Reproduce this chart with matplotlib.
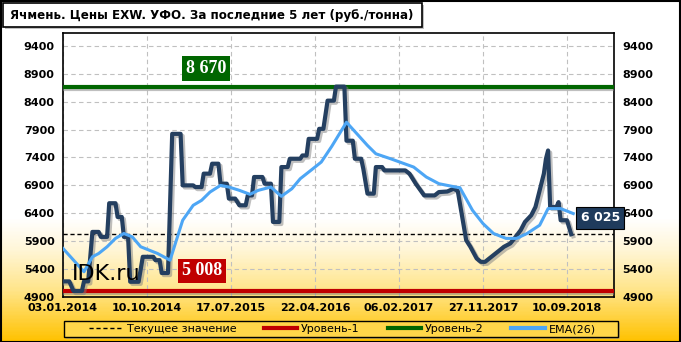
import numpy as np
import matplotlib
matplotlib.use("Agg")
import matplotlib.pyplot as plt
import matplotlib.patheffects as pe
from matplotlib.colors import LinearSegmentedColormap
from matplotlib.patches import Rectangle

# weekly data, week 0 = 03.01.2014
price_weeks = [0, 3, 5, 9, 10, 12, 14, 17, 18, 21, 22, 25, 26, 28, 29, 31, 32, 36,
               38, 43, 44, 46, 47, 50, 52, 56, 57, 62, 63, 66, 67, 70, 71, 74, 75, 78,
               79, 82, 84, 87, 88, 90, 91, 95, 96, 99, 100, 103, 104, 107, 108, 113,
               114, 116, 117, 121, 122, 124, 126, 129, 130, 134, 135, 138, 139, 142,
               143, 145, 148, 149, 152, 153, 163, 165, 168, 172, 177, 179, 183, 186,
               188, 192, 194, 197, 199, 201, 204, 207, 210, 213, 215, 218, 220, 223,
               225, 227, 229, 230, 231, 232, 235, 236, 237, 240, 242]
price_vals = [5180, 5180, 5008, 5008, 5180, 5180, 6066, 6066, 5977, 5977, 6580, 6580,
              6334, 6334, 5977, 5977, 5173, 5173, 5620, 5620, 5560, 5560, 5330, 5330,
              7823, 7823, 6900, 6900, 6870, 6870, 7110, 7110, 7288, 7288, 6930, 6930,
              6663, 6663, 6543, 6543, 6720, 6720, 7050, 7050, 6930, 6930, 6245, 6245,
              7228, 7228, 7377, 7377, 7436, 7436, 7733, 7733, 7913, 7913, 8418, 8418,
              8670, 8670, 7700, 7700, 7377, 7377, 7199, 6752, 6752, 7228, 7228, 7168,
              7168, 7110, 6930, 6720, 6720, 6780, 6790, 6840, 6800, 5918, 5800, 5590,
              5530, 5530, 5620, 5710, 5800, 5860, 5950, 6100, 6245, 6365, 6513, 6810,
              7110, 7377, 7525, 6513, 6513, 6600, 6275, 6275, 6025]

ema_weeks = [0, 10, 14, 17, 21, 25, 29, 33, 37, 41, 45, 51, 54, 57, 62, 66, 70, 75,
             79, 84, 89, 93, 99, 104, 109, 113, 118, 123, 128, 135, 140, 145, 149, 156,
             167, 173, 179, 187, 189, 195, 200, 205, 211, 216, 221, 227, 231, 237, 243]
ema_vals = [5770, 5352, 5620, 5680, 5800, 5950, 6038, 5977, 5800, 5740, 5680, 5560, 5918,
            6275, 6543, 6632, 6780, 6900, 6870, 6811, 6740, 6811, 6870, 6704, 6840,
            7020, 7168, 7318, 7600, 8031, 7823, 7615, 7466, 7377, 7228, 7050, 6930, 6870,
            6860, 6454, 6216, 6038, 5950, 5950, 6038, 6186, 6484, 6484, 6395]

current = 6025
level1 = 5008
level2 = 8670
date_labels = ["03.01.2014", "10.10.2014", "17.07.2015", "22.04.2016",
               "06.02.2017", "27.11.2017", "10.09.2018"]
tick_weeks = [0, 40, 80, 120, 160, 200, 240]
title = "Ячмень. Цены EXW. УФО. За последние 5 лет (руб./тонна)"

fig = plt.figure(figsize=(6.81, 3.42), dpi=100)

# background gradient (white -> yellow)
bg = fig.add_axes([0, 0, 1, 1], zorder=-10)
cmap = LinearSegmentedColormap.from_list(
    "bg", [(0, "#ffffff"), (0.64, "#ffffff"), (0.73, "#fff6d8"),
           (0.85, "#ffe58a"), (1.0, "#ffc200")])
grad = np.linspace(0, 1, 342).reshape(-1, 1)
bg.imshow(grad, aspect="auto", cmap=cmap, extent=[0, 1, 0, 1], origin="upper")
bg.axis("off")

ax = fig.add_axes([63/681, 45/342, 551/681, 264/342])
ax.set_facecolor("none")

shadow = [pe.SimpleLineShadow(offset=(1.5, -1.5), shadow_color="gray", alpha=0.5), pe.Normal()]

ax.axhline(level1, color="#c00000", lw=3, zorder=3, path_effects=shadow)
ax.axhline(level2, color="#006600", lw=3, zorder=3, path_effects=shadow)
ax.axhline(current, color="black", lw=1, ls=(0, (3, 2)), zorder=3)
ax.plot(price_weeks, price_vals, color="#243f60", lw=3.0, zorder=4,
        solid_joinstyle="round", path_effects=shadow)
ax.plot(ema_weeks, ema_vals, color="#4da6f5", lw=2.2, zorder=5)

ax.set_xlim(0, 262.4)
ax.set_ylim(4900, 9630)
ax.set_yticks(range(4900, 9401, 500))
ax.set_xticks(tick_weeks)
ax.set_xticklabels(date_labels)
ax.grid(True, color="#c0c0c0", ls=(0, (4, 3)), lw=0.8)
ax.tick_params(length=0, labelsize=8, pad=6, labelright=True)
ax.tick_params(axis="x", pad=4)
for lab in ax.get_xticklabels():
    lab.set_fontweight("bold")
for t in ax.yaxis.get_major_ticks():
    t.label1.set_fontweight("bold")
    t.label2.set_fontweight("bold")
for s in ax.spines.values():
    s.set_linewidth(1.2)

# value boxes
ax.text(58.5, 9000, "8 670", color="white", fontsize=13, fontweight="bold", family="Liberation Serif",
        ha="left", va="center", zorder=6,
        bbox=dict(boxstyle="square,pad=0.22", fc="#006600", ec="none"))
ax.text(56.5, 5366, "5 008", color="white", fontsize=13, fontweight="bold", family="Liberation Serif",
        ha="left", va="center", zorder=6,
        bbox=dict(boxstyle="square,pad=0.22", fc="#c00000", ec="none"))
ax.text(246.5, 6316, "6 025", color="white", fontsize=9, fontweight="bold",
        ha="left", va="center", zorder=6, clip_on=False,
        bbox=dict(boxstyle="square,pad=0.35", fc="#1f3b5c", ec="black", lw=0.8))
ax.text(0.016, 0.05, "IDK.ru", transform=ax.transAxes, fontsize=16, color="black",
        ha="left", va="bottom", zorder=6)

# title box
fig.patches.append(Rectangle((5/681, 1 - 29/342), 419/681, 24/342, transform=fig.transFigure,
                             fc="#999999", ec="none", alpha=0.6, zorder=1))
fig.patches.append(Rectangle((3/681, 1 - 27/342), 419/681, 24/342, transform=fig.transFigure,
                             fc="white", ec="black", lw=1.2, zorder=2))
fig.text(10/681, 1 - 15/342, title, fontsize=8.6, fontweight="bold", va="center", ha="left", zorder=3)

# legend box
fig.patches.append(Rectangle((66/681, 3/342), 554/681, 16/342, transform=fig.transFigure,
                             fc="#999999", ec="none", alpha=0.5, zorder=1))
fig.patches.append(Rectangle((64/681, 5/342), 554/681, 16/342, transform=fig.transFigure,
                             fc="#ffd64a", ec="black", lw=1, zorder=2))
h_cur, = ax.plot([], [], color="black", lw=1, ls=(0, (3, 2)), label="Текущее значение")
h_l1, = ax.plot([], [], color="#c00000", lw=3, label="Уровень-1")
h_l2, = ax.plot([], [], color="#006600", lw=3, label="Уровень-2")
h_ema, = ax.plot([], [], color="#4da6f5", lw=3, label="EMA(26)")
leg = fig.legend(handles=[h_cur, h_l1, h_l2, h_ema], loc="center",
                 bbox_to_anchor=(342.5/681, 13/342), ncol=4, fontsize=8, frameon=False,
                 handlelength=3.0, borderpad=0, handletextpad=0.35, columnspacing=2.5)
leg.set_zorder(5)

# outer border
fig.patches.append(Rectangle((0.5/681, 0.5/342), 679.5/681, 340.5/342, transform=fig.transFigure,
                             fc="none", ec="black", lw=1.5, zorder=20))

fig.savefig("out.png", dpi=100)
